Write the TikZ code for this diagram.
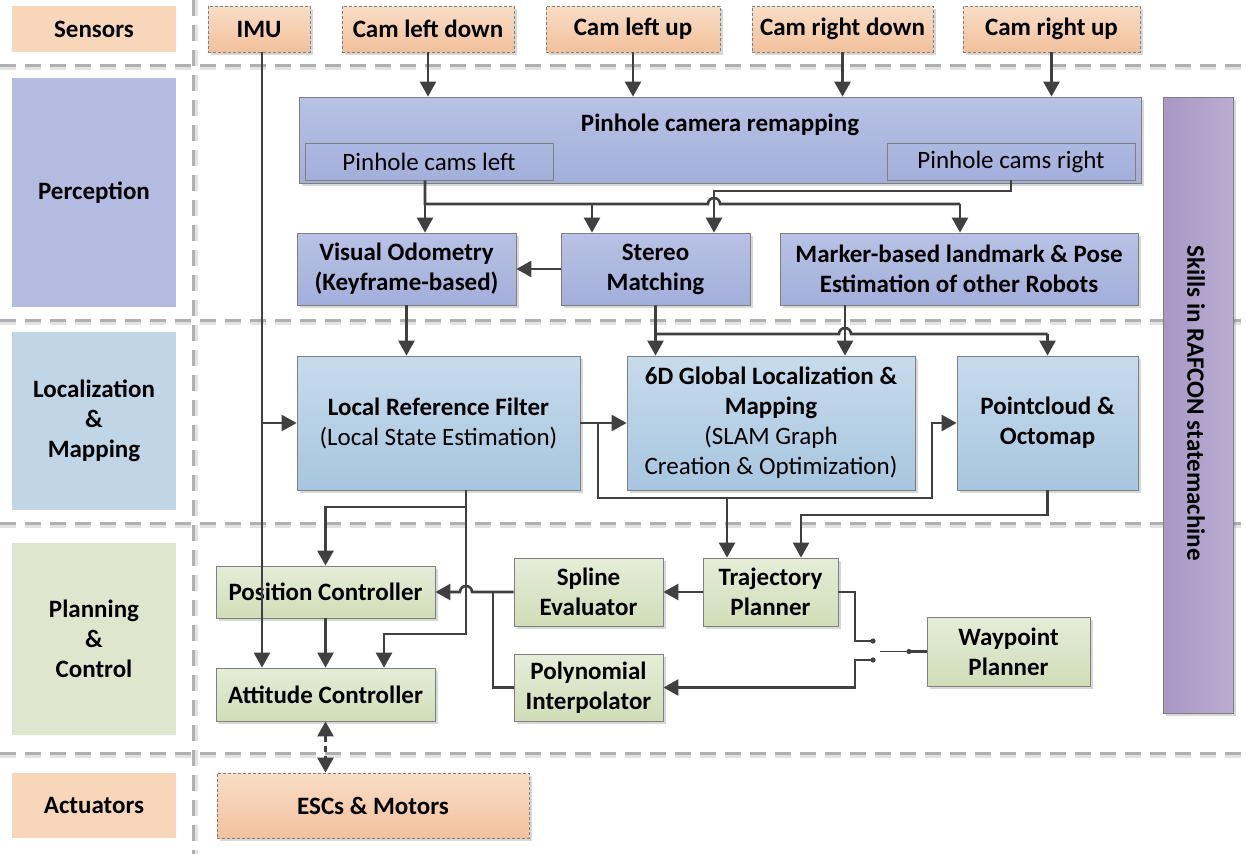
\documentclass[tikz,border=0pt]{standalone}
\usepackage{fontspec}
\setmainfont{Carlito}
\usetikzlibrary{arrows.meta,shadows}
\definecolor{orT}{HTML}{F9DDC6}
\definecolor{orB}{HTML}{F2C19C}
\definecolor{orL}{HTML}{F8D6BA}
\definecolor{puT}{HTML}{B9C2E6}
\definecolor{puB}{HTML}{A2AFDA}
\definecolor{puL}{HTML}{B4BBE0}
\definecolor{blT}{HTML}{C7DBEC}
\definecolor{blB}{HTML}{A7C6DF}
\definecolor{blL}{HTML}{C0D6E6}
\definecolor{grT}{HTML}{E5EDD8}
\definecolor{grB}{HTML}{D0DDB8}
\definecolor{grL}{HTML}{DEE7CD}
\definecolor{viL}{HTML}{A798C4}
\definecolor{viR}{HTML}{BBACD3}
\definecolor{lnc}{HTML}{404040}
\definecolor{sepc}{HTML}{B0B0B0}
\definecolor{sepl}{HTML}{E2E2E2}
\definecolor{bdc}{HTML}{7F7F7F}
\newcommand\fsz{\fontsize{25}{30}\selectfont}
\tikzset{
  box/.style={draw=bdc, line width=0.8pt, inner sep=0pt, align=center, font=\fsz\bfseries,
    drop shadow={shadow xshift=2.5pt, shadow yshift=-2.5pt, opacity=0.25, fill=black!60}},
  sens/.style={box, dash pattern=on 3pt off 2pt, top color=orT, bottom color=orB},
  perc/.style={box, top color=puT, bottom color=puB},
  loca/.style={box, top color=blT, bottom color=blB},
  plan/.style={box, top color=grT, bottom color=grB},
  subbox/.style={draw=bdc, line width=0.8pt, inner sep=0pt, font=\fsz},
  lab/.style={inner sep=0pt, align=center, font=\fsz\bfseries, minimum width=164pt},
  ln/.style={draw=lnc, line width=2.6pt},
  arr/.style={ln, -{Triangle[length=15pt,width=16pt]}},
  darr/.style={ln, dash pattern=on 6pt off 4pt, {Triangle[length=15pt,width=16pt]}-{Triangle[length=15pt,width=16pt]}},
  sepline/.style={draw=sepc, line width=3pt, dash pattern=on 16pt off 9pt},
  sepshade/.style={draw=sepl, line width=3pt, dash pattern=on 16pt off 9pt},
}
\begin{document}
\begin{tikzpicture}[x=1pt,y=-1pt]
\useasboundingbox[fill=white] (0,0) rectangle (1246,854);
% separators
\foreach \yy in {65,320,523,753}{
  \draw[sepshade] (0,\yy+3) -- (1246,\yy+3);
  \draw[sepline] (0,\yy) -- (1246,\yy);
}
\draw[sepshade] (196,0) -- (196,854);
\draw[sepline] (193,0) -- (193,854);
% left labels
\node[lab, fill=orL, minimum height=46pt] (Lsens) at (94,29) {Sensors};
\node[lab, fill=puL, minimum height=229pt] (Lperc) at (94,192.5) {Perception};
\node[lab, fill=blL, minimum height=178pt] (Lloc) at (94,421) {Localization\\\&\\Mapping};
\node[lab, fill=grL, minimum height=192pt] (Lplan) at (94,639) {Planning\\\&\\Control};
\node[lab, fill=orL, minimum height=65pt] (Lact) at (94,805.5) {Actuators};
% sensors
\node[sens, minimum width=102pt, minimum height=46pt] (imu) at (259,29) {IMU};
\node[sens, minimum width=172pt, minimum height=46pt] (cld) at (428,29) {Cam left down};
\node[sens, minimum width=174pt, minimum height=46pt] (clu) at (633,29) {Cam left up};
\node[sens, minimum width=181pt, minimum height=46pt] (crd) at (842.5,29) {Cam right down};
\node[sens, minimum width=177pt, minimum height=46pt] (cru) at (1051.5,29) {Cam right up};
% skills
\node[box, left color=viL, right color=viR, minimum width=70pt, minimum height=616pt] (sk) at (1198,405) {};
\node[rotate=-90, font=\fsz\bfseries, inner sep=0pt] (skt) at (1196,403) {Skills in RAFCON statemachine};
% pinhole
\node[perc, minimum width=842pt, minimum height=86pt] (pin) at (720,140) {};
\node[font=\fsz\bfseries, inner sep=0pt] (pint) at (720,125) {Pinhole camera remapping};
\node[subbox, minimum width=248pt, minimum height=37pt] (pcl) at (429,161.5) {Pinhole cams left};
\node[subbox, minimum width=248pt, minimum height=37pt] (pcr) at (1011,161.5) {Pinhole cams right};
% perception row
\node[perc, minimum width=219pt, minimum height=72pt] (vo) at (406.5,269) {Visual Odometry\\(Keyframe-based)};
\node[perc, minimum width=189pt, minimum height=72pt] (st) at (655.5,269) {Stereo\\Matching};
\node[perc, minimum width=358pt, minimum height=72pt] (mk) at (959,269) {Marker-based landmark \& Pose\\Estimation of other Robots};
% localization row
\node[loca, minimum width=283pt, minimum height=134pt] (lrf) at (438.5,423) {Local Reference Filter\\\mdseries(Local State Estimation)};
\node[loca, minimum width=288pt, minimum height=134pt] (gl) at (771,423) {6D Global Localization \&\\Mapping\\\mdseries(SLAM Graph\\\mdseries Creation \& Optimization)};
\node[loca, minimum width=181pt, minimum height=134pt] (pc) at (1047.5,423) {Pointcloud \&\\Octomap};
% planning
\node[plan, minimum width=219pt, minimum height=52pt] (posc) at (325.5,592) {Position Controller};
\node[plan, minimum width=219pt, minimum height=53pt] (attc) at (325.5,694.5) {Attitude Controller};
\node[plan, minimum width=149pt, minimum height=68pt] (sp) at (588.5,592) {Spline\\Evaluator};
\node[plan, minimum width=135pt, minimum height=68pt] (tp) at (770.5,592) {Trajectory\\Planner};
\node[plan, minimum width=149pt, minimum height=67pt] (po) at (588.5,687.5) {Polynomial\\Interpolator};
\node[plan, minimum width=163pt, minimum height=69pt] (wp) at (1008.5,651.5) {Waypoint\\Planner};
% actuators
\node[sens, minimum width=312pt, minimum height=65pt] (esc) at (373,805.5) {ESCs \& Motors};
% sensor arrows
\draw[arr] (cld.south) -- (cld.south |- pin.north);
\draw[arr] (clu.south) -- (clu.south |- pin.north);
\draw[arr] (crd.south) -- (crd.south |- pin.north);
\draw[arr] (cru.south) -- (cru.south |- pin.north);
% IMU
\coordinate (i1) at (262,423);
\draw[arr] (imu.south -| i1) -- (attc.north -| i1);
\draw[arr] (i1) -- (lrf.west);
% pinhole buses
\coordinate (bL) at (425,204);
\coordinate (b2) at (592,204);
\coordinate (b3) at (960,204);
\coordinate (r1) at (1011,191);
\coordinate (r2) at (714,191);
\draw[ln] (pcl.south -| bL) -- (bL) -- (708,204) arc[start angle=180,end angle=360,radius=6] -- (b3);
\draw[arr] (bL) -- (vo.north -| bL);
\draw[arr] (b2) -- (st.north -| b2);
\draw[arr] (b3) -- (mk.north -| b3);
\draw[arr] (pcr.south) -- (r1) -- (r2) -- (st.north -| r2);
\draw[arr] (st.west) -- (vo.east);
% perception -> localization
\draw[arr] (vo.south) -- (vo.south |- lrf.north);
\coordinate (c1) at (655.5,334);
\coordinate (c2) at (1047.5,334);
\coordinate (m1) at (845,334);
\draw[ln] (st.south) -- (c1) -- (839,334) arc[start angle=180,end angle=360,radius=6] -- (c2);
\draw[arr] (c1) -- (c1 |- gl.north);
\draw[arr] (c2) -- (pc.north);
\draw[arr] (mk.south -| m1) -- (gl.north -| m1);
% localization
\draw[arr] (lrf.east) -- (gl.west);
\coordinate (l1) at (598,423);
\coordinate (l2) at (598,498);
\coordinate (l3) at (932,498);
\coordinate (l4) at (932,423);
\coordinate (l5) at (727,498);
\draw[arr] (l1) -- (l2) -- (l3) -- (l4) -- (pc.west);
\draw[arr] (l5) -- (tp.north -| l5);
\coordinate (p1) at (1047.5,515);
\coordinate (p2) at (801,515);
\draw[arr] (pc.south) -- (p1) -- (p2) -- (tp.north -| p2);
% LRF -> controllers
\coordinate (f1) at (466,507);
\coordinate (f3) at (466,634);
\coordinate (f4) at (384,634);
\draw[arr] (lrf.south -| f1) -- (f1) -- (f1 -| posc.north) -- (posc.north);
\draw[arr] (f1) -- (f3) -- (f4) -- (attc.north -| f4);
\draw[arr] (posc.south) -- (attc.north);
% planning
\draw[arr] (tp.west) -- (sp.east);
\draw[arr] (sp.west) -- (472,592) arc[start angle=0,end angle=-180,radius=6] -- (posc.east);
\coordinate (j1) at (493,592);
\draw[ln] (j1) -- (j1 |- po.west) -- (po.west);
% switch
\coordinate (s1) at (855,592);
\coordinate (s2) at (855,641);
\coordinate (sc1) at (873,641);
\coordinate (s3) at (855,660);
\coordinate (sc2) at (873,660);
\coordinate (sa) at (880,651.5);
\coordinate (sb) at (909,651.5);
\draw[ln] (tp.east) -- (s1) -- (s2) -- (sc1);
\draw[arr] (sc2) -- (s3) -- (s3 |- po.east) -- (po.east);
\fill[lnc] (sc1) circle (2.6);
\fill[lnc] (sc2) circle (2.6);
\draw[draw=lnc, line width=0.8pt] (sa) -- (sb);
\fill[lnc] (sb) circle (2.6);
\draw[ln] (sb) -- (wp.west);
% actuators
\draw[darr] (attc.south) -- (attc.south |- esc.north);
\end{tikzpicture}
\end{document}
